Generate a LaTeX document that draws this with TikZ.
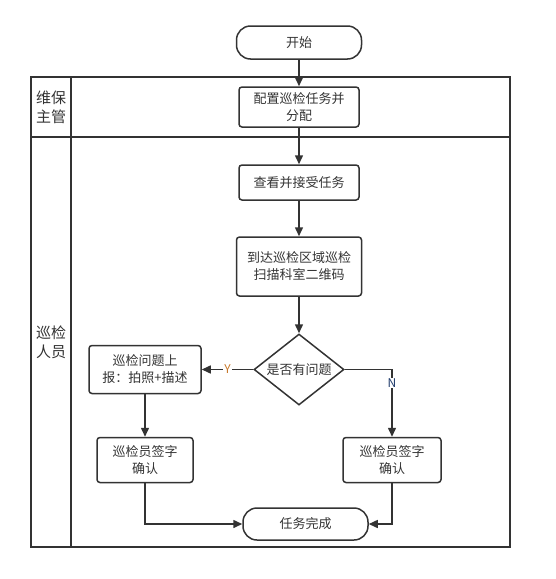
\documentclass[tikz,border=0pt]{standalone}
\usepackage{fontspec}
\setmainfont{Noto Sans CJK SC}
\usetikzlibrary{arrows.meta,positioning,shapes.geometric}
\definecolor{linegray}{HTML}{333333}
\definecolor{yorange}{HTML}{C8782A}
\definecolor{nblue}{HTML}{1F3A6B}
\tikzset{
    %Define standard arrow tip
    >={Triangle[length=9pt,width=8pt]},
    %Define style for boxes
    proc/.style={
           rectangle,
           rounded corners=3pt,
           draw=linegray, line width=1.5pt,
           minimum width=120pt,
           minimum height=40pt,
           inner sep=2pt,
           font=\fontsize{13}{17}\selectfont,
           text=linegray,
           align=center},
    term/.style={
           rectangle,
           rounded corners=14pt,
           draw=linegray, line width=1.5pt,
           minimum width=125pt,
           minimum height=33pt,
           font=\fontsize{13}{17}\selectfont,
           text=linegray},
    decision/.style={
           diamond,
           aspect=1.27,
           inner sep=0pt,
           draw=linegray, line width=1.5pt,
           minimum width=90pt,
           minimum height=71pt,
           font=\fontsize{13}{17}\selectfont,
           text=linegray},
    lane/.style={
           font=\fontsize{15}{19}\selectfont,
           text=linegray,
           align=center},
    swim/.style={
           -,
           draw=linegray,
           line width=1.5pt},
    lbl/.style={
           fill=white,
           inner sep=1pt,
           font=\fontsize{12}{14}\selectfont},
    % Define arrow style
    pil/.style={
           ->,
           draw=linegray,
           line width=1.5pt}
}
\begin{document}
\begin{tikzpicture}[x=1pt,y=-1pt,pil]
\useasboundingbox (0,0) rectangle (556,579);
% swimlanes
\draw[swim] (31,77) rectangle (510,547);
\draw[swim] (71,77) -- (71,547);
\draw[swim] (31,137) -- (510,137);
\node[lane] (lead) at (51,107) {维保\\主管};
\node[lane] (staff) at (51,342) {巡检\\人员};
% flow
\node[term] (start) at (299,42.5) {开始};
\node[proc, below=26.5pt of start](assign){配置巡检任务并\\分配};
\node[proc, minimum height=35pt, below=36.5pt of assign](accept){查看并接受任务};
\node[proc, minimum width=125pt, minimum height=59pt, below=35.5pt of accept](scan){到达巡检区域巡检\\扫描科室二维码};
\node[decision, below=36.5pt of scan](check){是否有问题};
\node[proc, minimum width=112pt, minimum height=48pt, left=51.5pt of check](report){巡检问题上\\报：拍照+描述};
\node[proc, minimum width=96pt, minimum height=45pt, below=42.5pt of report](signL){巡检员签字\\确认};
\node[proc, minimum width=98pt, minimum height=45pt, right=148.5pt of signL](signR){巡检员签字\\确认};
\node[term, minimum height=32pt] (done) at (305.5,524) {任务完成};
\path[]
	(start) edge (assign)
	(assign) edge (accept)
	(accept) edge (scan)
	(scan) edge (check)
	(check) edge node[lbl, text=yorange]{Y} (report)
	(report) edge (signL);
\draw (check.east) -| node[lbl, pos=0.6, text=nblue]{N} (signR.north);
\draw (signL) |- (done);
\draw (signR) |- (done);
\end{tikzpicture}
\end{document}
